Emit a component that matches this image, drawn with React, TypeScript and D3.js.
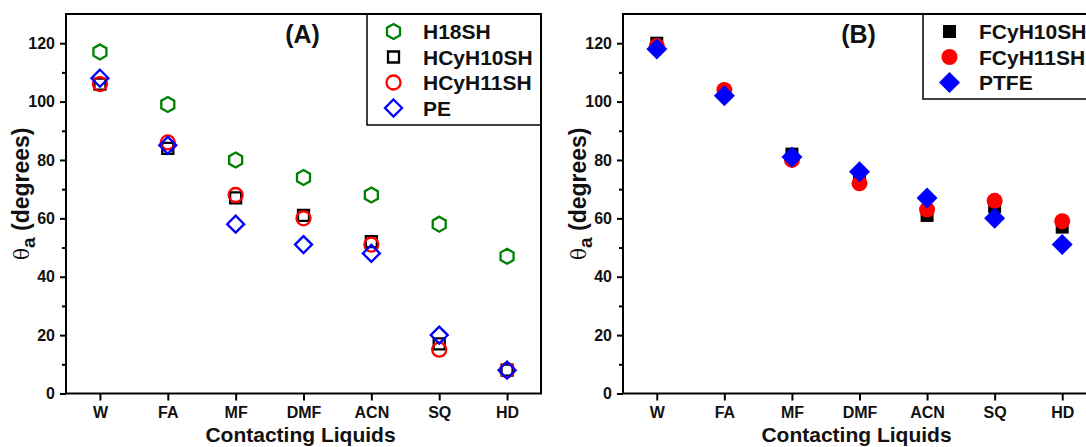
import React, { useEffect, useRef } from 'react';
import * as d3 from 'd3';

const width = 1086;
const height = 447;
const top = 14;
const bottom = 393.5;
const font = '"Liberation Sans", Arial, sans-serif';

const categories = ['W', 'FA', 'MF', 'DMF', 'ACN', 'SQ', 'HD'];
const yTicks = [0, 20, 40, 60, 80, 100, 120];
const yMinorTicks = [10, 30, 50, 70, 90, 110];

// panel A
const h18sh = [117, 99, 80, 74, 68, 58, 47];
const hcyh10sh = [106, 84, 67, 61, 52, 17, 8];
const hcyh11sh = [106, 86, 68, 60, 51, 15, 8];
const pe = [108, 85, 58, 51, 48, 20, 8];

// panel B
const fcyh10sh = [120, 103, 82, 75, 61, 64, 57];
const fcyh11sh = [119, 104, 80, 72, 63, 66, 59];
const ptfe = [118, 102, 81, 76, 67, 60, 51];

const seriesA = [
  { name: 'H18SH', values: h18sh, shape: 'hexagon', color: '#008000' },
  { name: 'HCyH10SH', values: hcyh10sh, shape: 'square', color: '#000000' },
  { name: 'HCyH11SH', values: hcyh11sh, shape: 'circle', color: '#ff0000' },
  { name: 'PE', values: pe, shape: 'diamond', color: '#0000ff' }
];

const seriesB = [
  { name: 'FCyH10SH', values: fcyh10sh, shape: 'square', color: '#000000' },
  { name: 'FCyH11SH', values: fcyh11sh, shape: 'circle', color: '#ff0000' },
  { name: 'PTFE', values: ptfe, shape: 'diamond', color: '#0000ff' }
];

function markerPath(shape, filled) {
  const p = d3.path();
  if (shape === 'hexagon') {
    const r = 7.5;
    for (let i = 0; i < 6; i++) {
      const a = (Math.PI / 3) * i - Math.PI / 2;
      if (i === 0) p.moveTo(r * Math.cos(a), r * Math.sin(a));
      else p.lineTo(r * Math.cos(a), r * Math.sin(a));
    }
    p.closePath();
  } else if (shape === 'square') {
    const s = filled ? 6.5 : 5.5;
    p.rect(-s, -s, s * 2, s * 2);
  } else if (shape === 'circle') {
    const r = filled ? 8 : 7;
    p.arc(0, 0, r, 0, Math.PI * 2);
    p.closePath();
  } else {
    const r = filled ? 10.5 : 8.5;
    p.moveTo(0, -r);
    p.lineTo(r, 0);
    p.lineTo(0, r);
    p.lineTo(-r, 0);
    p.closePath();
  }
  return p.toString();
}

function Marker({ shape, color, filled, x, y }) {
  return (
    <path
      d={markerPath(shape, filled)}
      transform={`translate(${x},${y})`}
      fill={filled ? color : 'none'}
      stroke={color}
      strokeWidth={filled ? 0 : 2.3}
    />
  );
}

function Panel({ left, right, tag, legendX, legendH, series, filled }) {
  const xAxisRef = useRef(null);
  const yAxisRef = useRef(null);
  const yMinorRef = useRef(null);

  const x = d3.scalePoint().domain(categories).range([left, right]).padding(0.5);
  const y = d3.scaleLinear().domain([0, 130]).range([bottom, top]);

  useEffect(() => {
    const gx = d3.select(xAxisRef.current).call(d3.axisBottom(x).tickSize(7).tickSizeOuter(0).tickPadding(6));
    gx.select('.domain').remove();
    gx.attr('font-size', 16).attr('font-family', font).attr('font-weight', 'bold');
    gx.selectAll('line').attr('stroke', '#000').attr('stroke-width', 2);
    gx.selectAll('text').attr('fill', '#111');

    const gy = d3.select(yAxisRef.current).call(d3.axisLeft(y).tickValues(yTicks).tickSize(6).tickSizeOuter(0).tickPadding(5));
    gy.select('.domain').remove();
    gy.attr('font-size', 16).attr('font-family', font).attr('font-weight', 'bold');
    gy.selectAll('line').attr('stroke', '#000').attr('stroke-width', 2);
    gy.selectAll('text').attr('fill', '#111');

    const gm = d3.select(yMinorRef.current).call(d3.axisLeft(y).tickValues(yMinorTicks).tickSize(4).tickFormat(() => ''));
    gm.select('.domain').remove();
    gm.selectAll('line').attr('stroke', '#000').attr('stroke-width', 2);
  });

  const cx = (left + right) / 2;

  return (
    <g>
      <g ref={xAxisRef} transform={`translate(0,${bottom})`} />
      <g ref={yAxisRef} transform={`translate(${left},0)`} />
      <g ref={yMinorRef} transform={`translate(${left},0)`} />
      <rect x={left} y={top} width={right - left} height={bottom - top} fill="none" stroke="#000" strokeWidth={2} />

      {series.map(s => (
        <g key={s.name}>
          {s.values.map((v, i) => (
            <Marker key={i} shape={s.shape} color={s.color} filled={filled} x={x(categories[i])} y={y(v)} />
          ))}
        </g>
      ))}

      <text x={cx - 1} y={43} textAnchor="middle" fontFamily={font} fontWeight="bold" fontSize={25} fill="#111">
        {tag}
      </text>

      <rect x={legendX} y={top} width={right - legendX} height={legendH} fill="none" stroke="#000" strokeWidth={1.5} />
      {series.map((s, i) => (
        <g key={s.name}>
          <Marker shape={s.shape} color={s.color} filled={filled} x={legendX + 26.5} y={top + 17.5 + i * 25.5} />
          <text
            x={legendX + 56}
            y={top + 17.5 + i * 25.5}
            dy="0.36em"
            fontFamily={font}
            fontWeight="bold"
            fontSize={21}
            fill="#111"
          >
            {s.name}
          </text>
        </g>
      ))}

      <text
        transform={`translate(${left - 37},${(top + bottom) / 2 - 10}) rotate(-90)`}
        textAnchor="middle"
        fontFamily={font}
        fill="#111"
      >
        <tspan fontFamily='"DejaVu Serif", serif' fontSize={20}>θ</tspan>
        <tspan fontWeight="bold" fontSize={19} dy={6}>a</tspan>
        <tspan fontWeight="bold" fontSize={23} dy={-6}> (degrees)</tspan>
      </text>

      <text x={cx - 3} y={442} textAnchor="middle" fontFamily={font} fontWeight="bold" fontSize={21} fill="#111">
        Contacting Liquids
      </text>
    </g>
  );
}

export default function App() {
  return (
    <svg width={width} height={height} style={{ position: 'absolute', left: 0, top: 0, background: '#fff' }}>
      <rect width={width} height={height} fill="#fff" />
      <Panel left={66} right={541} tag="(A)" legendX={367} legendH={111} series={seriesA} filled={false} />
      <Panel left={623} right={1096} tag="(B)" legendX={923} legendH={85} series={seriesB} filled={true} />
    </svg>
  );
}
